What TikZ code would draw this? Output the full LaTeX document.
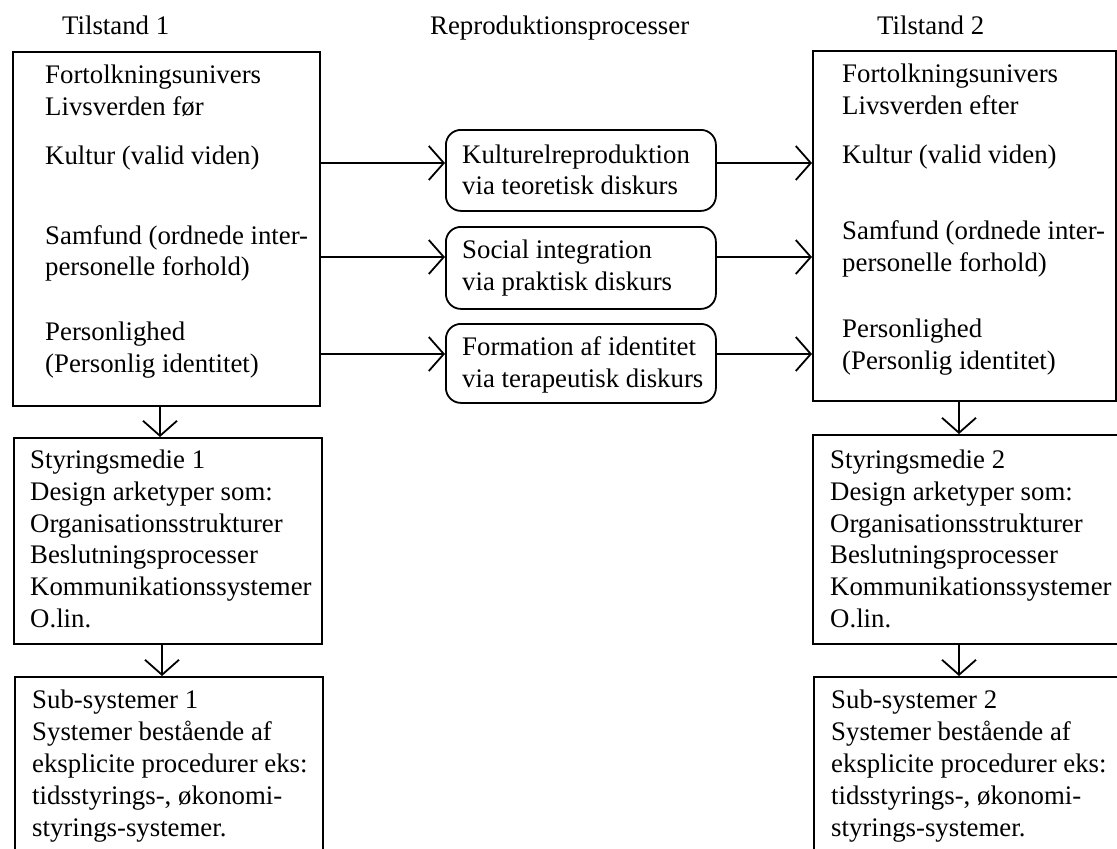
\documentclass[tikz,border=0pt]{standalone}
\usepackage{fontspec}
\setmainfont{Liberation Serif}
\usetikzlibrary{arrows.meta}
\tikzset{
  txt/.style={anchor=base west, inner sep=0pt, font=\fontsize{26.8}{32}\selectfont},
  box/.style={draw, line width=1.8pt, anchor=north west, inner sep=0pt},
  rbox/.style={box, rounded corners=15pt},
  arr/.style={line width=1.8pt, -{Straight Barb[length=15pt,width=34pt,line width=1.8pt]}}
}
\begin{document}
\begin{tikzpicture}[x=1pt,y=-1pt]
\useasboundingbox (0,0) rectangle (1117,849);
\clip (0,0) rectangle (1117,849);
% titles
\node[txt] (tA) at (62,34) {Tilstand 1};
\node[txt] (tB) at (430,34) {Reproduktionsprocesser};
\node[txt] (tC) at (877,34) {Tilstand 2};
% boxes
\node[box, minimum width=307pt, minimum height=354pt] (b1) at (12,51) {};
\node[box, minimum width=303pt, minimum height=350pt] (b2) at (812,50) {};
\node[rbox, minimum width=270pt, minimum height=81pt] (m1) at (445,129) {};
\node[rbox, minimum width=270pt, minimum height=82pt] (m2) at (445,226) {};
\node[rbox, minimum width=270pt, minimum height=79pt] (m3) at (445,323) {};
\node[box, minimum width=308pt, minimum height=206pt] (s1) at (13,437) {};
\node[box, minimum width=330pt, minimum height=209pt] (s2) at (812,434) {};
\node[box, minimum width=308pt, minimum height=200pt] (u1) at (14,676) {};
\node[box, minimum width=330pt, minimum height=200pt] (u2) at (813,676) {};
% texts
\foreach \y/\t [count=\i] in {83/Fortolkningsunivers, 115/Livsverden før, 164/Kultur (valid viden), 244/Samfund (ordnede inter-, 275/personelle forhold), 340/Personlighed, 372/(Personlig identitet)}
  \node[txt] (pA\i) at (45,\y) {\t};
\foreach \y/\t [count=\i] in {82/Fortolkningsunivers, 114/Livsverden efter, 163/Kultur (valid viden), 239/Samfund (ordnede inter-, 271/personelle forhold), 337/Personlighed, 369/(Personlig identitet)}
  \node[txt] (pB\i) at (842,\y) {\t};
\foreach \y/\t [count=\i] in {163/Kulturelreproduktion, 194/via teoretisk diskurs, 258/Social integration, 290/via praktisk diskurs, 355/Formation af identitet, 387/via terapeutisk diskurs}
  \node[txt] (pM\i) at (462,\y) {\t};
\foreach \y/\t [count=\i] in {468/Styringsmedie 1, 500/Design arketyper som:, 532/Organisationsstrukturer, 563/Beslutningsprocesser, 595/Kommunikationssystemer, 627/O.lin.}
  \node[txt] (pS\i) at (30,\y) {\t};
\foreach \y/\t [count=\i] in {468/Styringsmedie 2, 500/Design arketyper som:, 532/Organisationsstrukturer, 563/Beslutningsprocesser, 595/Kommunikationssystemer, 627/O.lin.}
  \node[txt] (pT\i) at (830,\y) {\t};
\foreach \y/\t [count=\i] in {708/Sub-systemer 1, 740/Systemer bestående af, 772/eksplicite procedurer eks:, 804/{tidsstyrings-, økonomi-}, 836/styrings-systemer.}
  \node[txt] (pU\i) at (32,\y) {\t};
\foreach \y/\t [count=\i] in {708/Sub-systemer 2, 740/Systemer bestående af, 772/eksplicite procedurer eks:, 804/{tidsstyrings-, økonomi-}, 836/styrings-systemer.}
  \node[txt] (pV\i) at (831,\y) {\t};
% horizontal arrows
\draw[arr] (b1.east |- 0,163) -- (m1.west |- 0,163);
\draw[arr] (b1.east |- 0,257) -- (m2.west |- 0,257);
\draw[arr] (b1.east |- 0,354) -- (m3.west |- 0,354);
\draw[arr] (m1.east |- 0,163) -- (b2.west |- 0,163);
\draw[arr] (m2.east |- 0,257) -- (b2.west |- 0,257);
\draw[arr] (m3.east |- 0,354) -- (b2.west |- 0,354);
% vertical arrows
\draw[arr] (b1.south -| 160,0) -- (s1.north -| 160,0);
\draw[arr] (s1.south -| 162,0) -- (u1.north -| 162,0);
\draw[arr] (b2.south -| 959,0) -- (s2.north -| 959,0);
\draw[arr] (s2.south -| 959,0) -- (u2.north -| 959,0);
\end{tikzpicture}
\end{document}
